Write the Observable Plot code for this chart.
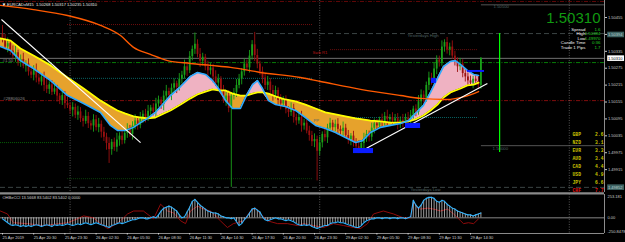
<!DOCTYPE html>
<html><head><meta charset="utf-8">
<script src="https://cdn.jsdelivr.net/npm/d3@7"></script>
<script src="https://cdn.jsdelivr.net/npm/@observablehq/plot@0.6"></script>
<style>
html,body{margin:0;padding:0;background:#000;}
#wrap{width:625px;height:242px;overflow:hidden;background:#000;}
#wrap svg{display:block;}
</style></head><body><div id="wrap"></div>
<script>
// ---------------- data (prices in points above 1.50000; 1 point = 0.00001) ----------------
const headerText = "EURCADxM15  1.50268 1.50317 1.50235 1.50310";
const firstOpen = 395;
const closePts = [381,350,362,336,318,330,296,306,282,290,
262,250,268,240,226,244,214,200,216,190,
202,176,160,178,150,142,126,136,108,120,
96,86,104,78,70,92,64,76,48,30,
8,-14,12,-6,20,34,18,44,58,40,
70,88,72,100,112,96,122,134,120,148,
162,146,176,192,178,204,220,206,236,250,
280,266,316,342,360,324,300,314,280,266,
276,244,222,236,196,160,176,132,176,188,
214,236,262,290,276,318,358,320,290,262,
240,214,226,196,180,196,160,148,160,128,
118,132,100,88,100,70,80,52,36,14,
22,-20,10,40,28,62,80,64,76,58,
50,62,36,22,34,10,-4,-14,8,24,
40,30,62,78,70,92,84,104,92,100,
88,96,76,90,82,98,92,108,130,118,
156,180,168,214,240,230,272,304,296,350,
366,340,350,318,300,280,290,256,244,230,
222,236,228,214,310];
const upWick = [32,14,20,10,18,24,9,16,22,12,
18,10,16,22,14,9,17,24,11,15,
20,12,9,18,14,22,10,17,12,20,
15,9,22,14,10,18,15,21,12,17,
14,20,10,15,24,12,17,9,20,14,
15,22,10,18,12,17,21,9,15,20,
14,10,18,22,12,15,17,9,20,14,
24,15,18,12,40,16,21,14,10,20,
15,12,22,17,9,18,14,20,10,15,
21,17,12,18,14,20,15,44,22,10,
17,14,20,12,18,15,9,21,14,17,
10,20,15,12,18,22,14,10,17,15,
20,12,21,9,18,14,17,10,15,20,
12,22,14,18,9,17,15,21,10,20,
14,12,18,17,15,9,20,14,22,10,
17,15,18,12,21,14,20,17,10,15,
22,18,14,12,21,17,20,15,14,22,
10,18,14,22,17,12,20,15,18,14,
17,10,15,20,3];
const dnWick = [16,12,20,15,10,22,14,18,9,21,
15,12,20,17,10,14,22,15,18,12,
9,21,14,17,20,10,15,24,12,18,
14,20,10,17,15,22,12,18,21,15,
24,49,20,14,17,22,15,12,18,10,
20,14,17,12,21,15,10,18,14,20,
12,17,22,14,10,18,15,21,12,17,
14,20,10,15,18,12,22,17,14,20,
15,21,12,18,17,10,20,15,280,14,
17,12,20,15,10,18,14,21,17,12,
20,15,18,10,22,14,17,21,12,15,
18,14,20,17,12,22,15,10,20,17,
21,105,15,18,14,20,12,17,15,21,
14,18,10,17,22,15,20,14,14,18,
12,17,15,20,14,10,18,15,21,12,
17,14,20,15,18,12,17,21,14,15,
10,20,17,14,18,15,12,20,17,14,
18,15,21,12,17,20,14,15,18,17,
12,20,14,15,14];

// MA ribbon (slow = yellow, fast = blue)
const bandBar = [-0.8,3.1,6.9,11.9,18.5,25,31.2,37.7,41.5,44.2,47.3,50.4,53.1,55.8,58.8,61.9,64.6,68.5,72.3,75,78.1,80.8,83.1,85.8,88.5,91.5,93.8,96.2,98.1,100,102.3,105,108.8,112.7,116.5,120.4,124.2,128.1,131.9,135.8,138.5,141.5,145.4,149.2,153.1,156.2,158.8,161.9,164.6,167.3,169.6,172.3,174.2,176.2,178.8,181.2,183.1];
const bandSlow = [381,373,345,320,285,242,203,160,139,125,114,104,100,97,100,114,125,146,168,182,192,200,196,196,185,178,178,185,189,189,185,175,164,157,146,132,118,111,104,97,93,89,86,82,82,86,93,107,125,146,171,189,196,203,214,217,224];
const bandFast = [352,338,302,274,231,178,150,118,72,54,54,65,82,97,118,150,178,210,246,260,253,231,203,160,132,132,178,217,231,203,160,146,139,125,100,72,61,47,29,11,18,47,65,72,79,89,114,143,189,239,281,299,302,288,267,253,249];

// long moving average (orange)
const maBar = [-0.8,11.9,25,37.7,45.4,50.4,56.9,63.5,72.3,80,87.7,99.2,114.6,122.3,137.7,153.1,160.8,170.4,178.1,183.1];
const maPts = [498,483,462,427,391,349,324,302,292,285,278,260,242,228,200,178,168,164,175,192];

// trend lines (white)
const trendBar1 = [-0.4, 137.7];
const trendPts1 = [448, -21];
const trendBar2 = [53.1, 186.5];
const trendPts2 = [11, 221];

// blue zones
const boxBar1 = [135, 155, 165, 178.8];
const boxBar2 = [142.7, 160.8, 166.9, 185.4];
const boxPts1 = [-10, 79, 239, 267];
const boxPts2 = [-28, 61, 221, 260];

// horizontal levels
const levelPts  = [512, 398, 310, 295, 160, -148, 430, 341, 239, 100, 11, -117, 500, 0];
const levelFrom = [null, null, null, null, null, null, 25, 126.2, 25, 122.3, -0.8, 25, 184.2, 184.2];
const levelTo   = [null, null, null, null, null, null, 119.6, 182.7, 119.6, 183, 23.5, 119.6, null, null];
const levelKind = ["r2","yday","bid","green","r1","yday","rdot","rdot","tdot","tdot","gdot","gdot2","round","round"];

// vertical lines
const separatorBars = [26, 122, 218];
const signalBar = [191.2];
const signalFrom = [-24];
const signalTo = [398];

// chart labels
const labelText = ["Yesterdays High", "Yesterdays Low", "Swb R1", "PP", "1.50500", "1.50000", "#1.50", "#28806026"];
const labelBar  = [155.8, 156.9, 119.2, 119.6, 188.8, 188.5, 0, 0.3];
const labelPts  = [391, -157, 331, 89, 494, -10, 302, 167];
const labelKind = ["gray", "gray", "red", "gray", "gray", "gray", "light", "light"];

// price axis
const priceTicks = [1.50455, 1.50395, 1.50335, 1.50275, 1.50215, 1.50155, 1.50095, 1.50035, 1.49975, 1.49915];
const markedPrices = [1.50394, 1.49852];
const lastPrice = 1.50310;

// info panel
const infoNames = ["Spread", "High", "Low", "Candle Time", "Trade 1 Pips"];
const infoValues = ["1.6", "1.50394", "1.49970", "0:36", "1.7"];
const currencies = ["GBP","NZD","EUR","AUD","CAD","USD","JPY","CHF"];
const strengths = ["2.6","3.1","3.3","3.4","4.4","4.9","6.6","7.7"];

// CCI sub-window
const cciLabel = "OHBeCCI 13.5668 83.5402 83.5402 0.0000";
const cciVals = [-11,-32,-53,-74,-84,-74,-84,-95,-84,-95,
-84,-95,-84,-74,-84,-95,-84,-74,-84,-95,
-74,-84,-74,-84,-74,-63,-74,-84,-74,-63,
-74,-63,-53,-63,-74,-63,-53,-63,-74,-84,
-95,-105,-84,-74,-63,-53,-63,-53,-42,-32,
-21,-21,-11,0,0,-11,-11,0,11,0,
32,74,105,116,127,116,95,74,32,0,
11,63,116,179,200,169,137,116,95,74,
63,53,53,42,21,11,0,0,-11,0,
-42,-84,-63,-21,11,53,95,105,84,63,
11,-21,-32,-21,-11,0,-11,-11,-21,-32,
-21,-32,-42,-63,-74,-84,-74,-84,-74,-95,
-105,-116,-105,-95,-84,-84,-63,-53,-53,-42,
-53,-53,-63,-74,-84,-95,-105,-105,-84,-53,
-32,-21,-11,-11,0,0,-11,0,0,-11,
0,0,-11,0,0,-11,0,11,190,137,
105,137,190,211,222,222,211,179,169,190,
179,148,127,105,95,74,63,53,42,32,
32,21,32,42,53];
const sigBar = [-0.8,1.9,4.2,9.6,15.8,25,28.8,31.2,35,37.7,40.4,41.5,45.4,48.1,50.4,54.2,58.1,60.8,63.5,65.8,68.5,70.4,72.3,75,77.3,80,83.8,86.5,88.8,92.7,95.4,97.3,99.2,101.9,105.8,109.6,113.5,115.8,119.6,123.5,127.3,131.2,135,137.7,140.4,142.7,146.5,150.4,154.2,156.9,158.1,159.6,160.8,163.5,165.8,168.5,171.2,173.5,176.2,177.3,179.2,181.2,183.1];
const sigVals = [74,42,-53,-63,-84,-53,-11,21,0,-63,-116,-105,-32,42,74,74,-11,148,74,53,-32,-63,74,127,95,74,-32,-105,-63,-32,74,105,42,-32,-63,-63,-84,-63,-84,-105,-63,-84,-105,-116,-63,42,74,42,0,0,179,105,95,105,95,74,95,42,-32,-63,-53,-63,-11];
const cciTop = 253.181;
const cciBottom = -170;
const cciAxisText = ["253.181", "0.00", "-250.8478"];

// time axis (M15 bar index)
const timeTickBars = [0,12,24,36,48,60,72,84,96,108,120,132,144,156,168,180];
const timeLabels = ["25 Apr 2019","25 Apr 20:30","25 Apr 23:30","26 Apr 02:30","26 Apr 05:30","26 Apr 08:30","26 Apr 11:30","26 Apr 14:30","26 Apr 17:30","26 Apr 20:30","26 Apr 23:30","29 Apr 02:30","29 Apr 05:30","29 Apr 08:30","29 Apr 11:30","29 Apr 14:30"];

// visible range
const xStart = -0.77, xEnd = 231.54;
const priceLow = -166.2, priceHigh = 515.4;

// ---------------- build ----------------
const P = p => 1.5 + p / 1e5;
const candles = closePts.map((c, i) => {
  const o = i === 0 ? firstOpen : closePts[i - 1];
  return {i, open: P(o), close: P(c), high: P(Math.max(o, c) + upWick[i]), low: P(Math.min(o, c) - dnWick[i]), up: c >= o};
});
const band = bandBar.map((b, k) => ({b, slow: P(bandSlow[k]), fast: P(bandFast[k])}));
const ma = maBar.map((b, k) => ({b, p: P(maPts[k])}));
const trends = trendBar1.map((b, k) => ({x1: b, y1: P(trendPts1[k]), x2: trendBar2[k], y2: P(trendPts2[k])}));
const boxes = boxBar1.map((b, k) => ({x1: b, x2: boxBar2[k], y1: P(boxPts1[k]), y2: P(boxPts2[k])}));
const levels = levelPts.map((p, k) => ({y: P(p), from: levelFrom[k] ?? xStart, to: levelTo[k] ?? xEnd, kind: levelKind[k]}));
const labels = labelText.map((t, k) => ({t, x: labelBar[k], y: P(labelPts[k]), kind: labelKind[k]}));
const cci = cciVals.map((v, i) => ({i, v}));
const sig = sigBar.map((b, k) => ({b, v: sigVals[k]}));
const tickName = new Map(timeTickBars.map((b, k) => [b, timeLabels[k]]));

const FONT = "Liberation Sans, Arial, sans-serif";
const MONO = "Liberation Mono, monospace";
const levelStyle = {
  r2:    {c: "#7a0a0a", d: "4,1.5,1,1.5", w: 0.8},
  yday:  {c: "#4a5656", d: "5,3", w: 0.8},
  bid:   {c: "#8c8c8c", d: null, w: 0.8},
  green: {c: "#0a9a0a", d: "4,1.5,1,1.5", w: 0.8},
  r1:    {c: "#a01010", d: "4,1.5,1,1.5", w: 0.8},
  rdot:  {c: "#8a1010", d: "1,1", w: 0.8},
  tdot:  {c: "#0a7a7a", d: "1,1", w: 0.8},
  gdot:  {c: "#0a7a0a", d: "1,1", w: 0.8},
  gdot2: {c: "#0a4a0a", d: "1,1", w: 0.8},
  round: {c: "#6a6a6a", d: null, w: 0.8}
};
const labelColor = {gray: "#4f6363", red: "#b01515", light: "#8a8a8a"};
const BULL = "#1aa01a", BEAR = "#9a1010";
const CUR = {fontSize: 4.7, lineHeight: 1.7, fontWeight: "bold", fontFamily: MONO, lineAnchor: "top", frameAnchor: "top-right"};

const mainMarks = [
  ...Object.entries(levelStyle).map(([k, s]) =>
    Plot.ruleY(levels.filter(d => d.kind === k), {y: "y", x1: "from", x2: "to", stroke: s.c, strokeDasharray: s.d, strokeWidth: s.w})),
  Plot.ruleX(separatorBars, {stroke: "#6a6a6a", strokeDasharray: "1,1.5", strokeWidth: 0.8}),
  Plot.area(band, {x1: "b", y1: "slow", y2: d => Math.min(d.slow, d.fast), fill: "#e6a22c"}),
  Plot.area(band, {x1: "b", y1: "fast", y2: d => Math.min(d.slow, d.fast), fill: "#efb2c2"}),
  Plot.ruleX(candles, {x: "i", y1: "low", y2: "high", stroke: BULL, strokeWidth: 0.9, filter: d => d.up}),
  Plot.ruleX(candles, {x: "i", y1: "open", y2: "close", stroke: BULL, strokeWidth: 1.8, filter: d => d.up}),
  Plot.ruleX(candles, {x: "i", y1: "low", y2: "high", stroke: BEAR, strokeWidth: 0.9, filter: d => !d.up}),
  Plot.ruleX(candles, {x: "i", y1: "open", y2: "close", stroke: BEAR, strokeWidth: 1.8, filter: d => !d.up}),
  Plot.line(band, {x: "b", y: "slow", stroke: "#ffff00", strokeWidth: 1.8}),
  Plot.line(band, {x: "b", y: "fast", stroke: "#2eaaff", strokeWidth: 1.6}),
  Plot.line(ma, {x: "b", y: "p", stroke: "#ff5a00", strokeWidth: 1.4, curve: "monotone-x"}),
  Plot.link(trends, {x1: "x1", y1: "y1", x2: "x2", y2: "y2", stroke: "#ffffff", strokeWidth: 1.1}),
  Plot.rect(boxes, {x1: "x1", x2: "x2", y1: "y1", y2: "y2", fill: "#0a1cff"}),
  Plot.ruleX(signalBar, {y1: signalFrom.map(P), y2: signalTo.map(P), stroke: "#00ff00", strokeWidth: 1.2}),
  ...Object.entries(labelColor).map(([k, c]) =>
    Plot.text(labels.filter(d => d.kind === k), {x: "x", y: "y", text: "t", fill: c, fontSize: 4.3, textAnchor: "start", fontFamily: FONT})),
  Plot.ruleX([xEnd], {stroke: "#8c8c8c", strokeWidth: 1}),
  Plot.axisY(priceTicks, {anchor: "right", tickSize: 2, tickPadding: 1.5, tickFormat: d => d.toFixed(5), fontSize: 4, color: "#c8c8c8", fontFamily: FONT}),
  Plot.text(markedPrices, {y: d => d, text: d => d.toFixed(5), frameAnchor: "right", dx: 3.5, textAnchor: "start", fontSize: 4, fill: "#b8d0d0", className: "hl", fontFamily: FONT}),
  Plot.text([lastPrice], {y: d => d, text: d => d.toFixed(5), frameAnchor: "right", dx: 3.5, textAnchor: "start", fontSize: 4, fill: "#000", className: "hlw", fontFamily: FONT}),
  Plot.text([headerText], {frameAnchor: "top-left", dx: 6.5, dy: 4.5, lineAnchor: "middle", textAnchor: "start", fill: "#e8e8e8", fontSize: 4, fontFamily: FONT}),
  Plot.text(["▼"], {frameAnchor: "top-left", dx: 1.2, dy: 4.5, lineAnchor: "middle", textAnchor: "start", fill: "#ffffff", fontSize: 4.5, fontFamily: FONT}),
  Plot.text([lastPrice.toFixed(5)], {frameAnchor: "top-right", dx: -4, dy: 22.6, lineAnchor: "bottom", textAnchor: "end", fill: "#119911", fontSize: 15, fontFamily: FONT}),
  Plot.text([infoNames.join("\n")], {frameAnchor: "top-right", dx: -19, dy: 26.8, lineAnchor: "top", textAnchor: "end", fill: "#f0f0f0", fontSize: 4.4, lineHeight: 1.04, fontFamily: FONT}),
  Plot.text([infoValues.join("\n")], {frameAnchor: "top-right", dx: -4, dy: 26.8, lineAnchor: "top", textAnchor: "end", fill: "#22cc22", fontSize: 4.4, lineHeight: 1.04, fontFamily: FONT}),
  Plot.text([currencies.slice(0, 7).join("\n")], {...CUR, dx: -32, dy: 129.6, textAnchor: "start", fill: "#c8c000"}),
  Plot.text([strengths.slice(0, 7).join("\n")], {...CUR, dx: -1, dy: 129.6, textAnchor: "end", fill: "#c8c000"}),
  Plot.text(["\n".repeat(7) + currencies[7]], {...CUR, dx: -32, dy: 129.6, textAnchor: "start", fill: "#e01010"}),
  Plot.text(["\n".repeat(7) + strengths[7]], {...CUR, dx: -1, dy: 129.6, textAnchor: "end", fill: "#e01010"})
];

const mainChart = Plot.plot({
  width: 625, height: 192, marginTop: 0, marginBottom: 0, marginLeft: 0, marginRight: 21,
  style: {background: "#000", color: "#c8c8c8", fontFamily: FONT, overflow: "hidden"},
  x: {domain: [xStart, xEnd], axis: null},
  y: {domain: [P(priceLow), P(priceHigh)]},
  marks: mainMarks
});

const cciChart = Plot.plot({
  width: 625, height: 50, marginTop: 2, marginBottom: 9, marginLeft: 0, marginRight: 21,
  style: {background: "#000", color: "#c8c8c8", fontFamily: FONT, overflow: "visible"},
  x: {domain: [xStart, xEnd]},
  y: {domain: [cciBottom, cciTop], axis: null},
  marks: [
    Plot.ruleY([cciTop], {stroke: "#8a8a8a", strokeWidth: 2.2, dy: -1.2}),
    Plot.ruleY([0], {stroke: "#a8a8a8", strokeWidth: 0.8}),
    Plot.ruleX(separatorBars, {stroke: "#6a6a6a", strokeDasharray: "1,1.5", strokeWidth: 0.8}),
    Plot.line(sig, {x: "b", y: "v", stroke: "#a00c0c", strokeWidth: 0.9}),
    Plot.ruleX(cci, {x: "i", y1: 0, y2: "v", stroke: "#f2f2f2", strokeWidth: 0.65}),
    Plot.line(cci, {x: "i", y: "v", stroke: "#30b4ff", strokeWidth: 1.1}),
    Plot.ruleY([cciBottom], {stroke: "#8a8a8a", strokeWidth: 1}),
    Plot.ruleX([xEnd], {stroke: "#8c8c8c", strokeWidth: 1}),
    Plot.text([cciLabel], {frameAnchor: "top-left", dx: 2, dy: 3.5, lineAnchor: "middle", textAnchor: "start", fill: "#d0d0d0", fontSize: 4, fontFamily: FONT}),
    Plot.text([cciAxisText[0]], {y: cciTop, frameAnchor: "right", dx: 3, dy: 1, lineAnchor: "top", textAnchor: "start", fill: "#c8c8c8", fontSize: 4, fontFamily: FONT}),
    Plot.text([cciAxisText[1]], {y: 0, frameAnchor: "right", dx: 3, textAnchor: "start", fill: "#c8c8c8", fontSize: 4, fontFamily: FONT}),
    Plot.text([cciAxisText[2]], {y: cciBottom, frameAnchor: "right", dx: 3, dy: -0.5, lineAnchor: "bottom", textAnchor: "start", fill: "#c8c8c8", fontSize: 4, fontFamily: FONT}),
    Plot.axisX(timeTickBars, {anchor: "bottom", tickSize: 1.5, tickPadding: 1, tickFormat: d => tickName.get(d), textAnchor: "start", fontSize: 4, color: "#d0d0d0", fontFamily: FONT})
  ]
});

const wrap = document.getElementById("wrap");
wrap.appendChild(mainChart);
wrap.appendChild(cciChart);

// backgrounds behind marked axis prices
const NS = "http://www.w3.org/2000/svg";
mainChart.querySelectorAll("g.hl text, g.hlw text").forEach(t => {
  const b = t.getBBox();
  const r = document.createElementNS(NS, "rect");
  r.setAttribute("x", b.x - 0.8);
  r.setAttribute("y", b.y - 0.3);
  r.setAttribute("width", b.width + 1.6);
  r.setAttribute("height", b.height + 0.6);
  r.setAttribute("fill", t.closest("g.hlw") ? "#ffffff" : "#3d6262");
  if (t.getAttribute("transform")) r.setAttribute("transform", t.getAttribute("transform"));
  t.parentNode.insertBefore(r, t);
});
</script></body></html>
